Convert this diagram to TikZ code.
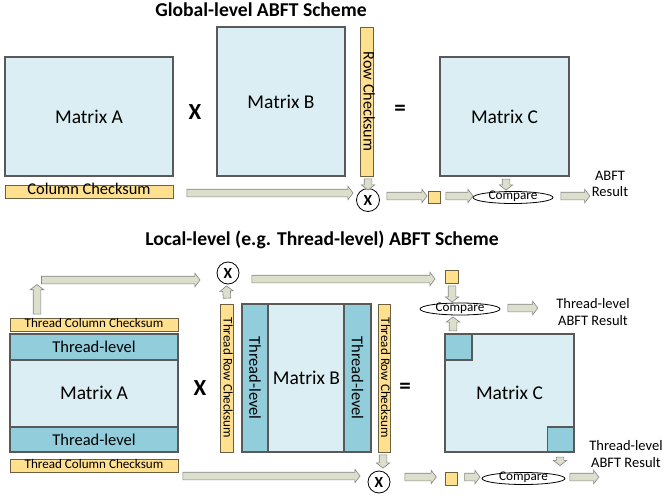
\documentclass[tikz,border=0pt]{standalone}
\usepackage{fontspec}
\setmainfont{Carlito}
\usetikzlibrary{calc,shapes.geometric,shapes.arrows}

\definecolor{lightblue}{HTML}{DAEEF3}
\definecolor{aqua}{HTML}{92CDDC}
\definecolor{cksfill}{HTML}{FFE08F}
\definecolor{cksline}{HTML}{6B6040}
\definecolor{matline}{HTML}{595959}
\definecolor{arrfill}{HTML}{DCDFCB}
\definecolor{arrline}{HTML}{858585}

\newcommand{\fsz}[1]{\fontsize{#1}{#1}\selectfont}

% block arrow between two points, named #1
\newcommand{\barr}[3]{%
  \coordinate (#1s) at #2;
  \coordinate (#1e) at #3;
  \path let \p1=($(#1e)-(#1s)$), \n1={veclen(\x1,\y1)}, \n2={atan2(\y1,\x1)} in
    node[blockarr, minimum height=\n1, rotate=\n2] (#1) at ($(#1s)!0.5!(#1e)$) {};}

\tikzset{
  mat/.style={draw=matline, line width=1.3pt, fill=lightblue, inner sep=0pt, font=\fsz{19.5}},
  band/.style={draw=matline, line width=1.3pt, fill=aqua, inner sep=0pt, font=\fsz{16.5}},
  cksum/.style={draw=cksline, line width=0.8pt, fill=cksfill, inner sep=0pt, text height=8pt, text depth=2pt},
  mult/.style={circle, draw=black, line width=0.8pt, fill=white, minimum size=23pt, inner sep=0pt, font=\bfseries\fsz{15.5}},
  cmp/.style={ellipse, draw=black, line width=0.8pt, fill=white, inner sep=0pt, minimum height=12pt, text height=6pt, text depth=1.5pt, font=\fsz{13.2}},
  sq/.style={draw=cksline, line width=0.8pt, fill=cksfill, inner sep=0pt},
  op/.style={font=\bfseries\fsz{23}},
  ttl/.style={font=\bfseries\fsz{19.6}},
  res/.style={align=center, font=\fsz{14.5}, inner sep=0pt},
  blockarr/.style={single arrow, draw=arrline, fill=arrfill, line width=0.6pt,
    inner xsep=0pt, inner ysep=3.5pt, text height=0pt, text depth=0pt,
    single arrow head extend=3pt, single arrow tip angle=105, single arrow head indent=0pt}
}

\begin{document}
\begin{tikzpicture}[x=1pt, y=-1pt]
\useasboundingbox (0,0) rectangle (662,496);

% global-level scheme
\node[ttl] (title1) at (261,10) {Global-level ABFT Scheme};
\node[mat, minimum width=168pt, minimum height=119pt] (matA) at (89,116.5) {Matrix A};
\node[op] (times1) at (195,112) {X};
\node[mat, minimum width=128pt, minimum height=149pt] (matB) at (281,101.5) {Matrix B};
\node[cksum, rotate=-90, minimum width=149pt, minimum height=13pt, font=\fsz{16.2}] (rowcs) at (366.5,101.5) {Row Checksum};
\node[op] (eq1) at (400,110) {=};
\node[mat, minimum width=129pt, minimum height=119pt] (matC) at (504.5,116.5) {Matrix C};
\node[cksum, minimum width=168pt, minimum height=13pt, font=\fsz{16.4}] (colcs) at (89,191.5) {Column Checksum};
\node[mult] (gx) at (368,200) {X};
\node[sq, minimum size=12pt] (gsq) at (434,197) {};
\node[cmp, minimum width=80pt] (gcmp) at (513,197.5) {Compare};
\node[res] (gres) at (610,184) {ABFT\\[2pt]Result};

\barr{a1}{($(colcs.east)+(12,1.5)$)}{($(gx.west)+(-4.5,-7)$)}
\barr{a2}{($(rowcs.east)+(1.5,1)$)}{($(gx.north)+(0,0.5)$)}
\barr{a3}{($(gx.east)+(5.5,-4)$)}{($(gsq.west)+(-2,-1)$)}
\barr{a4}{($(gsq.east)+(4,-1)$)}{($(gcmp.west)+(-1,-1.5)$)}
\barr{a5}{($(matC.south)+(1.5,1)$)}{($(gcmp.north)+(-7,-2.5)$)}
\barr{a6}{($(gcmp.east)+(6,-1.5)$)}{($(gcmp.east)+(35,-1.5)$)}

% local-level scheme
\node[ttl] (title2) at (322,240) {Local-level (e.g. Thread-level) ABFT Scheme};
\node[cksum, minimum width=168pt, minimum height=13pt, font=\fsz{13.1}] (tcs1) at (94,324.5) {Thread Column Checksum};
\node[mat, minimum width=168pt, minimum height=118pt] (matA2) at (94,393) {Matrix A};
\node[band, minimum width=168pt, minimum height=26pt] (bandA1) at (94,347) {Thread-level};
\node[band, minimum width=168pt, minimum height=25pt] (bandA2) at (94,439.5) {Thread-level};
\node[cksum, minimum width=168pt, minimum height=13pt, font=\fsz{13.1}] (tcs2) at (94,465.5) {Thread Column Checksum};
\node[op] (times2) at (200,388) {X};
\node[cksum, rotate=-90, minimum width=148pt, minimum height=13pt, font=\fsz{13.1}] (trcs1) at (226.5,378) {Thread Row Checksum};
\node[mat, minimum width=129pt, minimum height=148pt] (matB2) at (306.5,378) {Matrix B};
\node[band, rotate=-90, minimum width=148pt, minimum height=26pt] (bandB1) at (255,378) {Thread-level};
\node[band, rotate=-90, minimum width=148pt, minimum height=27pt] (bandB2) at (357.5,378) {Thread-level};
\node[cksum, rotate=-90, minimum width=148pt, minimum height=12pt, font=\fsz{13.1}] (trcs2) at (384,378) {Thread Row Checksum};
\node[op] (eq2) at (405,388) {=};
\node[mat, minimum width=129pt, minimum height=118pt] (matC2) at (509.5,393) {Matrix C};
\node[band, minimum width=27pt, minimum height=26pt] (cq1) at (458.5,347) {};
\node[band, minimum width=26pt, minimum height=25pt] (cq2) at (560.5,439.5) {};
\node[mult, minimum size=22pt] (lx) at (228,273) {X};
\node[sq, minimum size=13pt] (lsq1) at (451.5,276.5) {};
\node[cmp, minimum width=80pt] (lcmp1) at (460,309) {Compare};
\node[res] (lres1) at (593,312) {Thread-level\\[3pt]ABFT Result};
\node[mult, minimum size=22pt] (lx2) at (379,482) {X};
\node[sq, minimum size=12.5pt] (lsq2) at (451.5,479) {};
\node[cmp, minimum width=83pt] (lcmp2) at (523.5,478.5) {Compare};
\node[res] (lres2) at (626,454) {Thread-level\\[3pt]ABFT Result};
\coordinate (ltop) at (37,280);

\barr{b1}{($(tcs1.north)+(-57,-2)$)}{($(ltop)+(0,6)$)}
\barr{b2}{($(ltop)+(3,0)$)}{($(lx.west)+(-18,7)$)}
\barr{b3}{($(trcs1.west)+(0.5,-4)$)}{($(lx.south)+(-1.5,3)$)}
\barr{b4}{($(lx.east)+(11,6)$)}{($(lsq1.west)+(-11,2.5)$)}
\barr{b5}{($(lsq1.south)+(0.5,1)$)}{($(lcmp1.north)+(-8,-2)$)}
\barr{b6}{($(cq1.north)+(-5.5,-1)$)}{($(lcmp1.south)+(-7,3)$)}
\barr{b7}{($(lcmp1.east)+(6,-1)$)}{($(lcmp1.east)+(36,-1)$)}
\barr{b8}{($(tcs2.east)+(3,10.5)$)}{($(lx2.west)+(-9,-6)$)}
\barr{b9}{($(trcs2.east)+(-1,1)$)}{($(lx2.north)+(4,-4)$)}
\barr{b10}{($(lx2.east)+(13,-5)$)}{($(lsq2.west)+(-10,-2)$)}
\barr{b11}{($(lsq2.east)+(5,-2)$)}{($(lcmp2.west)+(-3,-1.5)$)}
\barr{b12}{($(cq2.south)+(-0.5,3)$)}{($(lcmp2.north)+(36.5,-8)$)}
\barr{b13}{($(lcmp2.east)+(3,-1.5)$)}{($(lcmp2.east)+(32,-1.5)$)}
\end{tikzpicture}
\end{document}
